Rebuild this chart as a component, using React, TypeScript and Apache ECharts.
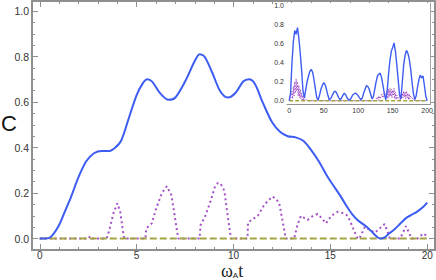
import React, { useEffect, useRef } from "react";
import * as echarts from "echarts";

// ---- main panel data (time ω_A t, concurrence C) ----
const mainBlue: [number, number][] = [
  [0, 0], [0.3, 0.0], [0.6, 0.01], [1.0, 0.06], [1.3, 0.12], [1.6, 0.18], [2.0, 0.27],
  [2.4, 0.34], [2.8, 0.375], [3.2, 0.385], [3.6, 0.385], [3.9, 0.4], [4.2, 0.43],
  [4.6, 0.53], [5.0, 0.63], [5.3, 0.68], [5.55, 0.7], [5.8, 0.69], [6.2, 0.64],
  [6.65, 0.61], [7.0, 0.62], [7.5, 0.69], [8.0, 0.78], [8.25, 0.81], [8.5, 0.8],
  [8.9, 0.73], [9.3, 0.65], [9.7, 0.62], [10.1, 0.64], [10.5, 0.69], [10.8, 0.7],
  [11.1, 0.68], [11.5, 0.6], [12.0, 0.51], [12.4, 0.47], [12.8, 0.45], [13.2, 0.445],
  [13.6, 0.43], [14.0, 0.39], [14.4, 0.34], [14.8, 0.28], [15.1, 0.24], [15.5, 0.19],
  [15.8, 0.148], [16.1, 0.11], [16.4, 0.082], [16.9, 0.05], [17.2, 0.025], [17.45, 0.005],
  [17.6, 0], [17.8, 0.005], [18.0, 0.02], [18.3, 0.04], [18.6, 0.065], [18.9, 0.09],
  [19.2, 0.105], [19.5, 0.12], [19.8, 0.14], [20, 0.158],
];

const mainPurple: [number, number][] = [
  [0, 0], [1.1, 0], [1.2, 0.005], [1.3, 0], [2.5, 0], [2.6, 0.01], [2.7, 0], [3.45, 0],
  [3.6, 0.04], [3.8, 0.11], [4.0, 0.155], [4.15, 0.12], [4.3, 0.03], [4.36, 0], [5.45, 0],
  [5.5, 0.045], [5.78, 0.067], [6.0, 0.13], [6.3, 0.2], [6.56, 0.23], [6.8, 0.19],
  [7.0, 0.08], [7.15, 0], [8.25, 0], [8.3, 0.06], [8.53, 0.096], [8.8, 0.16], [9.05, 0.23],
  [9.2, 0.245], [9.35, 0.24], [9.53, 0.21], [9.7, 0.1], [9.87, 0], [10.72, 0], [10.75, 0.07],
  [10.9, 0.08], [11.25, 0.1], [11.6, 0.15], [12.0, 0.185], [12.2, 0.175], [12.36, 0.155],
  [12.55, 0.07], [12.7, 0], [13.13, 0], [13.3, 0.06], [13.48, 0.1], [13.82, 0.082],
  [14.1, 0.1], [14.34, 0.108], [14.55, 0.09], [14.77, 0.067], [15.05, 0.1], [15.37, 0.118],
  [15.65, 0.112], [15.9, 0.1], [16.15, 0.05], [16.4, 0], [16.5, 0], [16.78, 0.052],
  [17.0, 0.04], [17.3, 0.026], [17.55, 0.045], [17.8, 0.064], [17.95, 0.03], [18.07, 0],
  [18.6, 0], [18.9, 0.055], [19.2, 0], [19.5, 0], [19.8, 0.023], [20, 0.01],
];

const mainOlive: [number, number][] = [[0, 0], [20, 0]];

// ---- inset data (long time 0..200) ----
const insetBlue: [number, number][] = [
  [0, 0], [2, 0.08], [4, 0.4], [6, 0.62], [8, 0.74], [10, 0.7], [12, 0.77], [14, 0.66],
  [16, 0.5], [18, 0.32], [20, 0.1], [22, 0.03], [24, 0.12], [26, 0.2], [28, 0.26],
  [30, 0.31], [32, 0.33], [34, 0.3], [36, 0.22], [38, 0.12], [40, 0.03], [42, 0.01],
  [44, 0.06], [46, 0.12], [48, 0.16], [50, 0.19], [52, 0.17], [54, 0.12], [56, 0.06],
  [58, 0.01], [60, 0.02], [62, 0.05], [64, 0.08], [66, 0.1], [68, 0.09], [70, 0.06],
  [72, 0.03], [74, 0.01], [76, 0.03], [78, 0.06], [80, 0.08], [82, 0.06], [84, 0.03],
  [86, 0.01], [88, 0.01], [90, 0.03], [92, 0.06], [94, 0.07], [96, 0.08], [98, 0.07],
  [100, 0.05], [102, 0.03], [104, 0.01], [106, 0.03], [108, 0.08], [110, 0.12],
  [112, 0.16], [114, 0.15], [116, 0.12], [118, 0.07], [120, 0.02], [122, 0.04],
  [124, 0.12], [126, 0.2], [128, 0.26], [130, 0.28], [132, 0.29], [134, 0.24],
  [136, 0.16], [138, 0.07], [140, 0.01], [142, 0.1], [144, 0.28], [146, 0.42],
  [148, 0.52], [150, 0.56], [152, 0.61], [154, 0.52], [156, 0.38], [158, 0.22],
  [160, 0.06], [162, 0.02], [164, 0.2], [166, 0.38], [168, 0.48], [170, 0.53],
  [172, 0.5], [174, 0.44], [176, 0.34], [178, 0.2], [180, 0.08], [182, 0.01],
  [184, 0.05], [186, 0.14], [188, 0.22], [190, 0.27], [192, 0.24], [194, 0.26],
  [196, 0.16], [198, 0.05], [200, 0.0],
];

const insetPurple: [number, number][] = [
  [0, 0], [2, 0.02], [4, 0.1], [5, 0.02], [6, 0.15], [7, 0.05], [8, 0.2], [9, 0.08],
  [10, 0.23], [11, 0.1], [12, 0.2], [13, 0.05], [14, 0.16], [15, 0.03], [16, 0.12],
  [17, 0.02], [18, 0.08], [19, 0.01], [20, 0.06], [21, 0], [22, 0.04], [24, 0.02],
  [26, 0], [125, 0], [126, 0.02], [128, 0.04], [129, 0], [130, 0.05], [132, 0.02],
  [134, 0.07], [136, 0.03], [138, 0.09], [140, 0.04], [142, 0.1], [143, 0.02],
  [144, 0.12], [145, 0.04], [146, 0.13], [147, 0.05], [148, 0.12], [149, 0.03],
  [150, 0.11], [151, 0.06], [152, 0.13], [153, 0.02], [154, 0.09], [155, 0.01],
  [156, 0.06], [158, 0.02], [160, 0.04], [161, 0], [162, 0.06], [163, 0.02],
  [164, 0.08], [165, 0.03], [166, 0.1], [167, 0.04], [168, 0.09], [169, 0.02],
  [170, 0.1], [171, 0.03], [172, 0.08], [173, 0.01], [174, 0.07], [175, 0.02],
  [176, 0.05], [178, 0.03], [180, 0.01], [182, 0], [200, 0],
];

const insetOlive: [number, number][] = [[0, 0], [200, 0]];

// ---- tick positions ----
const mainXMajor = [0, 5, 10, 15, 20];
const mainXMinor = [1, 2, 3, 4, 6, 7, 8, 9, 11, 12, 13, 14, 16, 17, 18, 19];
const mainYMajor = [0, 0.2, 0.4, 0.6, 0.8, 1.0];
const mainYMinor = [0.05, 0.1, 0.15, 0.25, 0.3, 0.35, 0.45, 0.5, 0.55, 0.65, 0.7, 0.75, 0.85, 0.9, 0.95];
const insetXMajor = [0, 50, 100, 150, 200];
const insetYMajor = [0, 0.2, 0.4, 0.6, 0.8, 1.0];

const BLUE = "#3d5cf2";
const PURPLE = "#a44fc8";
const OLIVE = "#a3a443";
const FRAME = "#8f8f8f";
const TEXT = "#333333";
const FONT = "Liberation Sans";

function axis(
  gridIndex: number,
  position: string,
  min: number,
  max: number,
  ticks: number[],
  tickLen: number,
  labels: number[] | null,
  labelSize: number,
  labelFmt: (v: number) => string,
  lineWidth: number,
  margin: number,
  lineHeight?: number
) {
  return {
    type: "value",
    gridIndex,
    position,
    min,
    max,
    offset: 0,
    axisLine: { show: lineWidth > 0, onZero: false, lineStyle: { color: FRAME, width: lineWidth } },
    axisTick: {
      show: ticks.length > 0,
      inside: true,
      length: tickLen,
      customValues: ticks,
      lineStyle: { color: FRAME, width: 1 },
    },
    axisLabel: labels
      ? {
          show: true,
          customValues: labels,
          fontSize: labelSize,
          fontFamily: FONT,
          color: TEXT,
          margin,
          lineHeight: lineHeight ?? labelSize + 2,
          formatter: (v: number) => labelFmt(v),
          showMinLabel: true,
          showMaxLabel: true,
          hideOverlap: false,
        }
      : { show: false },
    splitLine: { show: false },
    minorTick: { show: false },
    minorSplitLine: { show: false },
  };
}

export default function App() {
  const ref = useRef<HTMLDivElement>(null);
  useEffect(() => {
    const chart = echarts.init(ref.current!, null, { renderer: "svg" });
    const fmtInt = (v: number) => String(Math.round(v));
    const fmt1 = (v: number) => v.toFixed(1);
    const mx: [number, number] = [-0.4, 20.4];
    const my: [number, number] = [-0.05, 1.044];
    const ix: [number, number] = [-3.2, 204.4];
    const iy: [number, number] = [-0.035, 1.03];

    const option: any = {
      animation: false,
      backgroundColor: "#ffffff",
      grid: [
        { left: 32, right: 1, top: 1, bottom: 30, containLabel: false },
        {
          left: 287, top: 3, width: 146, height: 101, containLabel: false,
          show: true, backgroundColor: "#ffffff", borderWidth: 0, z: 5,
        },
      ],
      xAxis: [
        axis(0, "bottom", mx[0], mx[1], mainXMajor, 6, mainXMajor, 10, fmtInt, 2, 2, 6),
        axis(0, "bottom", mx[0], mx[1], mainXMinor, 3, null, 10, fmtInt, 0, 3),
        axis(0, "top", mx[0], mx[1], mainXMajor, 6, null, 10, fmtInt, 2, 3),
        axis(0, "top", mx[0], mx[1], mainXMinor, 3, null, 10, fmtInt, 0, 3),
        axis(1, "bottom", ix[0], ix[1], insetXMajor, 2, insetXMajor, 7, fmtInt, 1, 2),
        axis(1, "top", ix[0], ix[1], insetXMajor, 2, null, 7, fmtInt, 1, 2),
      ],
      yAxis: [
        axis(0, "left", my[0], my[1], mainYMajor, 6, mainYMajor, 10.5, fmt1, 2, 3),
        axis(0, "left", my[0], my[1], mainYMinor, 3, null, 10.5, fmt1, 0, 3),
        axis(0, "right", my[0], my[1], mainYMajor, 6, null, 10.5, fmt1, 2, 3),
        axis(0, "right", my[0], my[1], mainYMinor, 3, null, 10.5, fmt1, 0, 3),
        axis(1, "left", iy[0], iy[1], insetYMajor, 2, insetYMajor, 7, fmt1, 1, 3),
        axis(1, "right", iy[0], iy[1], insetYMajor, 2, null, 7, fmt1, 1, 3),
      ],
      series: [
        {
          type: "line", xAxisIndex: 0, yAxisIndex: 0, data: mainPurple, showSymbol: false,
          lineStyle: { color: PURPLE, width: 2, type: [2, 3] }, z: 2,
        },
        {
          type: "line", xAxisIndex: 0, yAxisIndex: 0, data: mainOlive, showSymbol: false,
          lineStyle: { color: OLIVE, width: 2, type: [7, 3] }, z: 3,
        },
        {
          type: "line", xAxisIndex: 0, yAxisIndex: 0, data: mainBlue, showSymbol: false, smooth: 0.3,
          lineStyle: { color: BLUE, width: 2 }, z: 4,
        },
        {
          type: "line", xAxisIndex: 4, yAxisIndex: 4, data: insetPurple, showSymbol: false,
          lineStyle: { color: PURPLE, width: 1, type: [1.5, 1.5] }, z: 6,
        },
        {
          type: "line", xAxisIndex: 4, yAxisIndex: 4, data: insetOlive, showSymbol: false,
          lineStyle: { color: OLIVE, width: 1.5, type: [4, 2] }, z: 6,
        },
        {
          type: "line", xAxisIndex: 4, yAxisIndex: 4, data: insetBlue, showSymbol: false,
          lineStyle: { color: BLUE, width: 1.4 }, z: 7,
        },
      ],
      graphic: [
        {
          type: "text", left: 1, top: 112,
          style: { text: "C", fontSize: 22, fontFamily: FONT, fill: "#111" },
        },
        {
          type: "text", left: 221, top: 262,
          style: {
            text: "{w|ω}{s|A}{w|t}",
            rich: {
              w: { fontSize: 18, fontFamily: "Liberation Serif", fill: "#222", lineHeight: 17 },
              s: { fontSize: 8, fontFamily: FONT, fill: "#222", verticalAlign: "bottom", lineHeight: 10 },
            },
          },
        },
      ],
    };
    chart.setOption(option);
    return () => chart.dispose();
  }, []);
  return (
    <div
      ref={ref}
      style={{ position: "absolute", left: 0, top: 0, width: 436, height: 280 }}
    />
  );
}
